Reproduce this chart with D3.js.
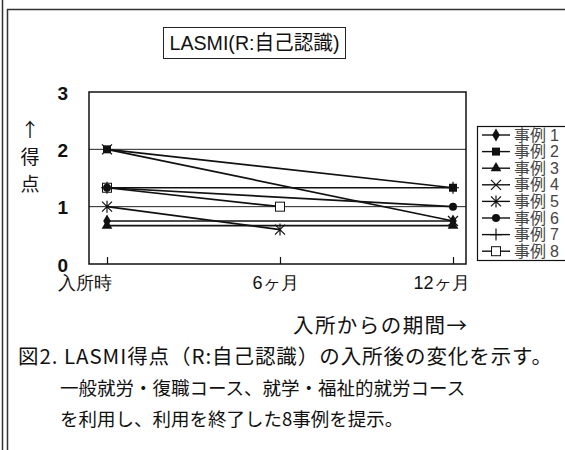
<!DOCTYPE html>
<html>
<head>
<meta charset="utf-8">
<script src="https://cdn.jsdelivr.net/npm/d3@7"></script>
<style>
  html, body { margin: 0; padding: 0; background: #fff; }
  svg { display: block; font-family: "Liberation Sans", "Noto Sans CJK JP", sans-serif; }
</style>
</head>
<body>
<svg id="chart" width="565" height="450"></svg>
<script>
// Measurement points
const categories = ["入所時", "6ヶ月", "12ヶ月"];
// LASMI R (self-awareness) scores per case; null = not measured
const case1 = [0.75, null, 0.75];
const case2 = [2, null, 1.33];
const case3 = [0.67, null, 0.67];
const case4 = [2, null, 0.75];
const case5 = [1, 0.6, null];
const case6 = [1.33, null, 1];
const case7 = [1.33, null, 1.33];
const case8 = [1.33, 1, null];
const seriesNames = ["事例 1", "事例 2", "事例 3", "事例 4", "事例 5", "事例 6", "事例 7", "事例 8"];
const markerKinds = ["diamond", "square", "triangle", "cross", "star", "circle", "plus", "openSquare"];
const yTicks = [0, 1, 2, 3];
const gridValues = [1, 2];

const titleText = "LASMI(R:自己認識)";
const yTitle = ["↑", "得", "点"];
const xTitle = "入所からの期間→";
const captionLines = [
  "図2. LASMI得点（R:自己認識）の入所後の変化を示す。",
  "一般就労・復職コース、就学・福祉的就労コース",
  "を利用し、利用を終了した8事例を提示。"
];

const series = [case1, case2, case3, case4, case5, case6, case7, case8].map((vals, i) => ({
  name: seriesNames[i],
  kind: markerKinds[i],
  points: vals.map((v, j) => ({ cat: categories[j], v })).filter(p => p.v !== null)
}));

const svg = d3.select("#chart");
const ink = "#111";

// outer frame: double rule on the left, single frame around the panel
svg.append("line").attr("x1", 2.5).attr("x2", 2.5).attr("y1", 0).attr("y2", 450)
  .attr("stroke", "#333").attr("stroke-width", 1.5);
svg.append("rect").attr("x", 7.5).attr("y", 9.5).attr("width", 600).attr("height", 500)
  .attr("fill", "none").attr("stroke", "#333").attr("stroke-width", 1.5);

// title box
svg.append("rect").attr("x", 163.5).attr("y", 27.5).attr("width", 182).attr("height", 31)
  .attr("fill", "none").attr("stroke", "#222").attr("stroke-width", 1);
svg.append("text").attr("x", 254.5).attr("y", 50)
  .attr("text-anchor", "middle").attr("font-size", 20).attr("fill", ink)
  .attr("textLength", 170).attr("lengthAdjust", "spacingAndGlyphs").text(titleText);

// plot area
const plot = { left: 89, right: 466, top: 92, bottom: 264 };
const x = d3.scalePoint().domain(categories).range([107, 453]);
const y = d3.scaleLinear().domain([0, 3]).range([plot.bottom, plot.top]);

// gridlines
svg.append("g").selectAll("line").data(gridValues).join("line")
  .attr("x1", plot.left).attr("x2", plot.right)
  .attr("y1", d => y(d)).attr("y2", d => y(d))
  .attr("stroke", "#222").attr("stroke-width", 1);

// plot border
svg.append("rect").attr("x", plot.left).attr("y", plot.top)
  .attr("width", plot.right - plot.left).attr("height", plot.bottom - plot.top)
  .attr("fill", "none").attr("stroke", ink).attr("stroke-width", 1.5);

// y axis labels
const yAxis = svg.append("g").attr("transform", `translate(${plot.left},1)`)
  .call(d3.axisLeft(y).tickValues(yTicks).tickSize(0).tickPadding(21).tickFormat(d3.format("d")));
yAxis.select(".domain").remove();
yAxis.selectAll("text").attr("font-size", 19).attr("font-weight", "bold")
  .attr("font-family", "Liberation Sans, Arial, sans-serif").attr("fill", ink);

// x axis ticks and labels
const labelShift = [-23, -5, -12];
const xAxis = svg.append("g").attr("transform", `translate(0,${plot.bottom})`)
  .call(d3.axisBottom(x).tickSizeInner(-7).tickSizeOuter(0).tickPadding(18));
xAxis.select(".domain").remove();
xAxis.selectAll(".tick line").attr("stroke", ink).attr("stroke-width", 1.2);
xAxis.selectAll("text").attr("font-size", 18).attr("fill", ink)
  .attr("dx", (d, i) => labelShift[i]).attr("dy", "0.4em");

// y title (stacked vertically)
svg.append("g").selectAll("text").data(yTitle).join("text")
  .attr("x", 30).attr("y", (d, i) => 137 + i * 27)
  .attr("text-anchor", "middle").attr("font-size", 19).attr("fill", ink)
  .attr("font-family", "Noto Sans CJK JP, sans-serif")
  .text(d => d);

// x title
svg.append("text").attr("x", 293).attr("y", 333).attr("font-size", 20.5).attr("fill", ink)
  .attr("font-family", "Noto Sans CJK JP, sans-serif")
  .attr("textLength", 174).attr("lengthAdjust", "spacing").text(xTitle);

// series lines
const line = d3.line().x(d => x(d.cat)).y(d => y(d.v));
svg.append("g").selectAll("path").data(series).join("path")
  .attr("d", d => line(d.points))
  .attr("fill", "none").attr("stroke", ink).attr("stroke-width", 1.7);

// marker drawing
function drawMarker(g, kind, cx, cy) {
  const s = 4;
  switch (kind) {
    case "diamond":
      g.append("path").attr("d", d3.symbol(d3.symbolDiamond, 50)()).attr("transform", `translate(${cx},${cy})`).attr("fill", ink);
      break;
    case "square":
      g.append("rect").attr("x", cx - s).attr("y", cy - s).attr("width", 2 * s).attr("height", 2 * s).attr("fill", ink);
      break;
    case "triangle":
      g.append("path").attr("d", d3.symbol(d3.symbolTriangle, 50)()).attr("transform", `translate(${cx},${cy})`).attr("fill", ink);
      break;
    case "cross":
      g.append("path").attr("d", `M${cx - 5},${cy - 5}L${cx + 5},${cy + 5}M${cx - 5},${cy + 5}L${cx + 5},${cy - 5}`)
        .attr("stroke", ink).attr("stroke-width", 1.2);
      break;
    case "star":
      g.append("path").attr("d", `M${cx - 5},${cy - 5}L${cx + 5},${cy + 5}M${cx - 5},${cy + 5}L${cx + 5},${cy - 5}M${cx},${cy - 6}L${cx},${cy + 6}`)
        .attr("stroke", ink).attr("stroke-width", 1.2);
      break;
    case "circle":
      g.append("circle").attr("cx", cx).attr("cy", cy).attr("r", 4).attr("fill", ink);
      break;
    case "plus":
      g.append("path").attr("d", `M${cx - 6},${cy}L${cx + 6},${cy}M${cx},${cy - 6}L${cx},${cy + 6}`)
        .attr("stroke", ink).attr("stroke-width", 1.2);
      break;
    case "openSquare":
      g.append("rect").attr("x", cx - 4.5).attr("y", cy - 4.5).attr("width", 9).attr("height", 9)
        .attr("fill", "#fff").attr("stroke", ink).attr("stroke-width", 1);
      break;
  }
}

const markers = svg.append("g");
// later cases first so lower-numbered cases sit on top
series.slice().reverse().forEach(s => {
  s.points.forEach(p => drawMarker(markers, s.kind, x(p.cat), y(p.v)));
});

// legend
const lg = { left: 477, top: 126, width: 90, height: 134, row: 16.6, first: 135 };
svg.append("rect").attr("x", lg.left + 0.5).attr("y", lg.top + 0.5)
  .attr("width", lg.width).attr("height", lg.height)
  .attr("fill", "#fff").attr("stroke", ink).attr("stroke-width", 1.2);
const legendRows = svg.append("g");
series.forEach((s, i) => {
  const ry = lg.first + i * lg.row;
  legendRows.append("line").attr("x1", 482).attr("x2", 510).attr("y1", ry).attr("y2", ry)
    .attr("stroke", ink).attr("stroke-width", 1.4);
  drawMarker(legendRows, s.kind, 496, ry);
  legendRows.append("text").attr("x", 514).attr("y", ry + 5.5)
    .attr("font-size", 16).attr("fill", "#444")
    .attr("textLength", 45).attr("lengthAdjust", "spacing").text(s.name);
});

// caption
const captionWidths = [534, null, null];
svg.append("g").selectAll("text").data(captionLines).join("text")
  .attr("x", (d, i) => i === 0 ? 18 : 60)
  .attr("y", (d, i) => 364 + i * 31)
  .attr("font-size", (d, i) => i === 0 ? 20.5 : 18.5).attr("fill", ink)
  .attr("font-family", "Noto Sans CJK JP, sans-serif")
  .each(function(d, i) {
    if (captionWidths[i]) d3.select(this).attr("textLength", captionWidths[i]).attr("lengthAdjust", "spacing");
  })
  .text(d => d);
</script>
</body>
</html>
